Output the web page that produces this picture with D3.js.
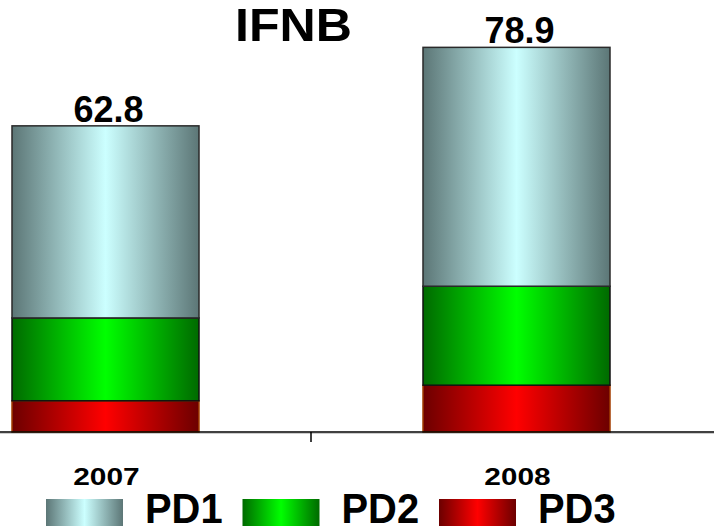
<!DOCTYPE html>
<html><head><meta charset="utf-8">
<script src="https://cdn.jsdelivr.net/npm/d3@7"></script>
<style>body{margin:0;background:#fff;overflow:hidden} svg{display:block}</style>
</head><body>
<svg id="c" width="714" height="532"></svg>
<script>
// ---- data ----
const title = "IFNB";
const years = ["2007", "2008"];
const seriesNames = ["PD1", "PD2", "PD3"];
const pd1 = [39.4, 49.0];
const pd2 = [17.0, 20.3];
const pd3 = [6.4, 9.6];
const totalLabels = ["62.8", "78.9"];

const svg = d3.select("#c");
const W = 714, H = 532;
const font = "'Liberation Sans', Arial, Helvetica, sans-serif";

const rows = years.map((y, i) => ({year: y, PD1: pd1[i], PD2: pd2[i], PD3: pd3[i], total: totalLabels[i]}));

const x = d3.scaleBand().domain(years).range([-100, 722]).paddingInner(0.545).paddingOuter(0.2725);
const y = d3.scaleLinear().domain([0, 80]).range([432, 42]);

const colors = {
  PD1: ["#5c7676", "#ccffff"],
  PD2: ["#006a00", "#00ff00"],
  PD3: ["#6c0000", "#ff0000"]
};
const strokes = {PD1: "#2a2a2a", PD2: "#111", PD3: "#a23c00"};

const defs = svg.append("defs");
seriesNames.forEach(k => {
  const g = defs.append("linearGradient").attr("id", "g" + k)
    .attr("x1", "0").attr("x2", "1").attr("y1", "0").attr("y2", "0");
  g.append("stop").attr("offset", "0").attr("stop-color", colors[k][0]);
  g.append("stop").attr("offset", "0.5").attr("stop-color", colors[k][1]);
  g.append("stop").attr("offset", "1").attr("stop-color", colors[k][0]);
});

// stacked bars (PD3 bottom, PD2 middle, PD1 top)
const stack = d3.stack().keys(["PD3", "PD2", "PD1"]);
const layers = stack(rows);

svg.append("g").selectAll("g").data(layers).join("g")
  .attr("fill", d => "url(#g" + d.key + ")")
  .attr("stroke", d => strokes[d.key])
  .attr("stroke-width", 1.5)
  .selectAll("rect").data(d => d).join("rect")
  .attr("x", d => x(d.data.year))
  .attr("width", x.bandwidth())
  .attr("y", d => y(d[1]))
  .attr("height", d => y(d[0]) - y(d[1]));

// axis
const axisG = svg.append("g");
axisG.append("line").attr("x1", 0).attr("x2", W).attr("y1", y(0) + 1.5).attr("y2", y(0) + 1.5)
  .attr("stroke", "#ccc").attr("stroke-width", 1);
axisG.append("line").attr("x1", 0).attr("x2", W).attr("y1", y(0)).attr("y2", y(0))
  .attr("stroke", "#000").attr("stroke-width", 1.5);
const tickX = x(years[1]) - x.step() * x.paddingInner() / 2;
axisG.append("line").attr("x1", tickX).attr("x2", tickX).attr("y1", y(0)).attr("y2", y(0) + 10)
  .attr("stroke", "#000").attr("stroke-width", 1.5);

// category labels
svg.append("g").selectAll("text").data(years).join("text")
  .attr("transform", d => `translate(${x(d) + x.bandwidth() / 2 + 1},484.5) scale(1.3,1)`)
  .attr("text-anchor", "middle")
  .attr("font-family", font).attr("font-weight", "bold").attr("font-size", 23)
  .text(d => d);

// total labels
svg.append("g").selectAll("text").data(rows).join("text")
  .attr("x", d => x(d.year) + x.bandwidth() / 2 + 3)
  .attr("y", d => y(d.PD1 + d.PD2 + d.PD3) - 4)
  .attr("text-anchor", "middle")
  .attr("font-family", font).attr("font-weight", "bold").attr("font-size", 36)
  .text(d => d.total);

// title
svg.append("text")
  .attr("transform", "translate(293.5,41) scale(1.09,1)")
  .attr("text-anchor", "middle")
  .attr("font-family", font).attr("font-weight", "bold").attr("font-size", 46)
  .text(title);

// legend
const leg = svg.append("g");
const legItems = leg.selectAll("g").data(seriesNames).join("g")
  .attr("transform", (d, i) => `translate(${46 + i * 196.5},499)`);
legItems.append("rect").attr("width", 77).attr("height", 27)
  .attr("fill", d => "url(#g" + d + ")");
legItems.append("text")
  .attr("transform", "translate(99,24) scale(0.95,1)")
  .attr("font-family", font).attr("font-weight", "bold").attr("font-size", 42)
  .text(d => d);
</script>
</body></html>
